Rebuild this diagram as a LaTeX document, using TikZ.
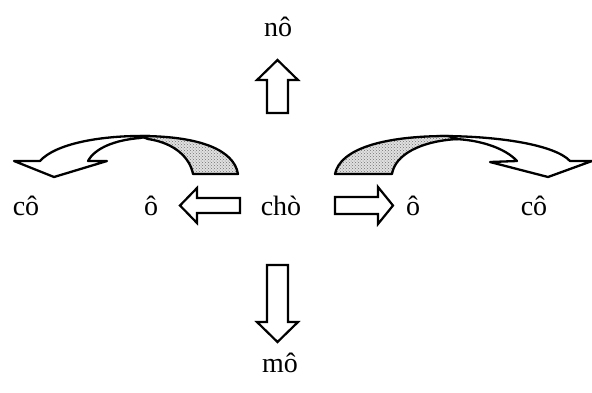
\documentclass[tikz,border=0pt]{standalone}
\usepackage{fontspec}
\setmainfont{Liberation Serif}
\usetikzlibrary{patterns}
\begin{document}
\begin{tikzpicture}[x=1pt,y=-1pt,
  word/.style={anchor=base,inner sep=0pt,font=\fontsize{28}{30}\selectfont},
  blockarrow/.style={draw=black,fill=white,line width=2.2pt,line join=miter},
  band/.style={draw=black,fill=white,line width=2.3pt,line join=round},
  shade/.style={draw=black,line width=2.3pt,line join=round,
    preaction={fill=black!12},pattern=crosshatch dots,pattern color=black!55}]
\useasboundingbox (0,0) rectangle (592,392);
% words
\node[word] (no)   at (278,36)  {nô};
\node[word] (cho)  at (281,215) {chò};
\node[word] (oL)   at (151,215) {ô};
\node[word] (coL)  at (26,215)  {cô};
\node[word] (oR)   at (413,215) {ô};
\node[word] (coR)  at (534,215) {cô};
\node[word] (mo)   at (280,372) {mô};
% block arrows
\draw[blockarrow] (240,198) -- (197,198) -- (197,188) -- (180,205.5) -- (197,223) -- (197,213) -- (240,213) -- cycle;
\draw[blockarrow] (335,197) -- (378,197) -- (378,187) -- (393,205.5) -- (378,224) -- (378,214) -- (335,214) -- cycle;
\draw[blockarrow] (267,113) -- (267,80) -- (257,80) -- (277.5,60) -- (298,80) -- (288,80) -- (288,113) -- cycle;
\draw[blockarrow] (267,265) -- (267,322) -- (257,322) -- (277.5,342) -- (298,322) -- (288,322) -- (288,265) -- cycle;
% left curved arrow
\draw[band] (150,136) .. controls (100,135) and (55,144) .. (40,161) -- (14,161) -- (54,177) -- (107,161) -- (88,161)
  .. controls (95,148) and (115,140) .. (140,138) -- cycle;
\draw[shade] (140,136) .. controls (200,136) and (234,150) .. (238,174) -- (193,174)
  .. controls (190,158) and (175,143) .. (148,139) -- cycle;
% right curved arrow
\draw[band] (440,136) .. controls (500,136) and (555,145) .. (570,161) -- (592,161) -- (548,177) -- (490,162) -- (517,161)
  .. controls (505,148) and (480,140) .. (455,139) -- cycle;
\draw[shade] (335,174) .. controls (340,150) and (380,136) .. (448,136) -- (458,139)
  .. controls (420,141) and (395,155) .. (392,174) -- cycle;
\end{tikzpicture}
\end{document}
